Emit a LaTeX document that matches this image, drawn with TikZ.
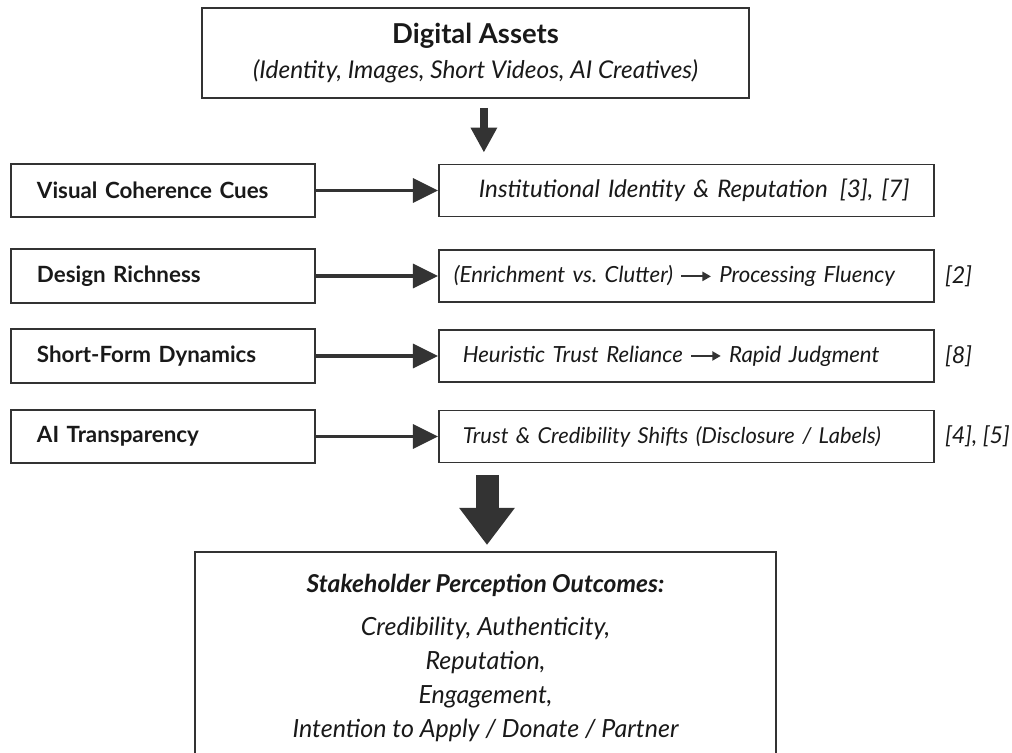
\documentclass[tikz,border=0pt]{standalone}
\usepackage{fontspec}
\setmainfont{Lato}
\usetikzlibrary{arrows.meta,calc,positioning}
\definecolor{ink}{HTML}{333333}
\frenchspacing
\newcommand\leadsarrow{\tikz[baseline=-0.55ex]\draw[ink,line width=1.3pt,-{Triangle[length=6pt,width=6.5pt]}] (0pt,0pt) -- (21pt,0pt);}

\begin{document}
\begin{tikzpicture}
  [
    x = 0.025cm,
    y = -0.025cm,
    font = \fontsize{16.5}{20}\selectfont,
    every node/.style = {
      text = black!90,
    },
    box/.style = {
      draw = ink,
      line width = 1.3pt,
    },
    cue/.style = {
      box,
      minimum width = 7.6cm,
      minimum height = 1.33cm,
      text width = 6.3cm,
      inner xsep = 0.65cm,
      align = left,
      font = \fontsize{15.9}{20}\selectfont\bfseries,
    },
    effect/.style = {
      box,
      minimum width = 12.375cm,
      minimum height = 1.3cm,
      text width = 11.375cm,
      inner xsep = 0.5cm,
      align = left,
      font = \fontsize{15.8}{20}\selectfont\itshape,
    },
    cite/.style = {
      inner sep = 0pt,
      font = \fontsize{16.5}{20}\selectfont\itshape,
    },
    link/.style = {
      draw = ink,
      line width = 2.2pt,
      -{Triangle[length=0.625cm,width=0.6cm]},
    },
    drop/.style = {
      draw = ink,
      line width = #1,
    },
  ]

  \clip (0,0) rectangle (1012,753);

  \node (assets) [
    box,
    minimum width = 13.675cm,
    minimum height = 2.25cm,
    align = center,
  ] at (475.5,53) {{\fontsize{19.5}{22}\selectfont\bfseries Digital Assets}\\[5pt]{\fontsize{17.4}{20}\selectfont\itshape (Identity, Images, Short Videos, AI Creatives)}};

  \node (visual) [cue] at (163,190.5) {Visual Coherence Cues};
  \node (design) [cue] at (163,276) {Design Richness};
  \node (shortform) [cue] at (163,356) {Short-Form Dynamics};
  \node (ai) [cue] at (163,436.5) {AI Transparency};

  \node (identity) [effect, font=\fontsize{17.2}{20}\selectfont\itshape, right = 3.05cm of visual] {\mbox{\hspace*{0.5cm}Institutional Identity \& Reputation\enspace[3], [7]}};
  \node (fluency) [effect, right = 3.05cm of design] {\mbox{\hspace*{-0.125cm}(Enrichment vs. Clutter) \leadsarrow{} Processing Fluency}};
  \node (judgment) [effect, right = 3.05cm of shortform] {\mbox{\hspace*{0.1cm}Heuristic Trust Reliance \leadsarrow{} Rapid Judgment}};
  \node (credibility) [effect, font=\fontsize{15.6}{20}\selectfont\itshape, right = 3.05cm of ai] {\mbox{\hspace*{0.1cm}Trust \& Credibility Shifts (Disclosure / Labels)}};

  \node (fluency cite) [cite, right = 0.25cm of fluency] {[2]};
  \node (judgment cite) [cite, right = 0.25cm of judgment] {[8]};
  \node (credibility cite) [cite, right = 0.25cm of credibility] {[4], [5]};

  \node (outcomes) [
    box,
    anchor = north,
    minimum width = 14.525cm,
    inner ysep = 0.55cm,
    align = center,
    font = \fontsize{17.8}{21}\selectfont\itshape,
  ] at (485.5,551) {{\fontsize{17.5}{21}\selectfont\bfseries Stakeholder Perception Outcomes:}\\[10pt]
    Credibility, Authenticity,\\[3pt]
    Reputation,\\[3pt]
    Engagement,\\[3pt]
    Intention to Apply / Donate / Partner};

  \draw [link] (visual) -- (identity);
  \draw [link] (design) -- (fluency);
  \draw [link] (shortform) -- (judgment);
  \draw [link] (ai) -- (credibility);

  \coordinate (top drop) at ([xshift=0.21cm,yshift=-0.225cm] assets.south);
  \coordinate (top land) at (top drop |- identity.north);
  \draw [drop=0.2cm, -{Triangle[length=0.625cm,width=0.625cm]}, shorten >=0.275cm] (top drop) -- (top land);

  \coordinate (big drop) at (487,475);
  \coordinate (big land) at (big drop |- outcomes.north);
  \draw [drop=0.575cm, -{Triangle[length=0.925cm,width=1.325cm]}, shorten >=0.15cm] (big drop) -- (big land);

\end{tikzpicture}
\end{document}
